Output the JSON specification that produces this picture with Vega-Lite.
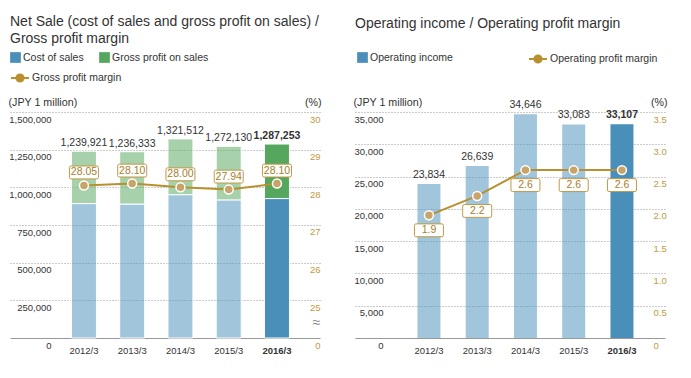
{
  "$schema": "https://vega.github.io/schema/vega-lite/v6.json",
  "padding": {"left": 8, "top": 15, "right": 5, "bottom": 5},
  "background": "white",
  "config": {
    "font": "Liberation Sans, Arial, sans-serif",
    "view": {"stroke": null},
    "axis": {"labelFontSize": 9.5, "labelColor": "#333", "ticks": false, "tickSize": 0, "domain": false, "grid": false, "titleFontWeight": "normal", "titleFontSize": 10.7, "titleColor": "#333", "labelFlush": false, "labelOverlap": false},
    "legend": {"labelFontSize": 10.5, "labelColor": "#333", "padding": 0, "titlePadding": 0},
    "title": {"fontSize": 14, "fontWeight": "normal", "color": "#333", "anchor": "start", "frame": "group", "lineHeight": 17, "offset": 6}
  },
  "datasets": {
    "sales": [
      {"year": "2012/3", "series": "Cost of sales", "value": 892123},
      {"year": "2012/3", "series": "Gross profit on sales", "value": 347798},
      {"year": "2013/3", "series": "Cost of sales", "value": 888923},
      {"year": "2013/3", "series": "Gross profit on sales", "value": 347410},
      {"year": "2014/3", "series": "Cost of sales", "value": 951489},
      {"year": "2014/3", "series": "Gross profit on sales", "value": 370023},
      {"year": "2015/3", "series": "Cost of sales", "value": 916697},
      {"year": "2015/3", "series": "Gross profit on sales", "value": 355433},
      {"year": "2016/3", "series": "Cost of sales", "value": 925535},
      {"year": "2016/3", "series": "Gross profit on sales", "value": 361718}
    ],
    "net": [
      {"year": "2012/3", "net": 1239921, "margin": 28.05},
      {"year": "2013/3", "net": 1236333, "margin": 28.10},
      {"year": "2014/3", "net": 1321512, "margin": 28.00},
      {"year": "2015/3", "net": 1272130, "margin": 27.94},
      {"year": "2016/3", "net": 1287253, "margin": 28.10}
    ],
    "op": [
      {"year": "2012/3", "series": "Operating income", "income": 23834, "margin": 1.9},
      {"year": "2013/3", "series": "Operating income", "income": 26639, "margin": 2.2},
      {"year": "2014/3", "series": "Operating income", "income": 34646, "margin": 2.6},
      {"year": "2015/3", "series": "Operating income", "income": 33083, "margin": 2.6},
      {"year": "2016/3", "series": "Operating income", "income": 33107, "margin": 2.6}
    ]
  },
  "resolve": {"scale": {"fill": "independent", "stroke": "independent"}, "legend": {"fill": "independent", "stroke": "independent"}},
  "bounds": "flush",
  "spacing": 35,
  "hconcat": [
    {
      "title": {"text": ["Net Sale (cost of sales and gross profit on sales) /", "Gross profit margin"]},
      "width": 310,
      "height": 226,
      "resolve": {"scale": {"y": "independent"}},
      "layer": [
        {
          "layer": [
            {
              "data": {"name": "sales"},
              "mark": {"type": "bar", "stroke": "white", "strokeWidth": 1},
              "encoding": {
                "x": {"field": "year", "type": "nominal", "scale": {"paddingInner": 0.482, "paddingOuter": 0.953, "align": 0.668},
                  "axis": {"title": null, "domain": true, "domainColor": "#999", "domainWidth": 1, "labelAngle": 0, "labelPadding": 7, "labelFontSize": 9.5, "labelColor": "#333", "labelOverlap": false,
                    "labelFontWeight": {"condition": {"test": "datum.value == '2016/3'", "value": "bold"}, "value": "normal"}}},
                "y": {"field": "value", "type": "quantitative", "stack": "zero", "scale": {"domain": [0, 1500000], "nice": false},
                  "axis": {"values": [0, 250000, 500000, 750000, 1000000, 1250000, 1500000], "labelExpr": "format(datum.value, ',')", "labelOverlap": false, "grid": true, "gridColor": "#999", "gridDash": [1, 2], "gridWidth": 1,
                    "gridOpacity": {"condition": {"test": "datum.value == 0", "value": 0}, "value": 1},
                    "labelAlign": "right", "labelPadding": -41, "labelBaseline": "middle", "labelOffset": 7,
                    "title": "(JPY 1 million)", "titleAngle": 0, "titleAlign": "left", "titleBaseline": "middle", "titleX": -2, "titleY": -10}},
                "fill": {"field": "series", "type": "nominal", "scale": {"domain": ["Cost of sales", "Gross profit on sales"], "range": ["#4a8fba", "#56a75e"]},
                  "legend": {"orient": "none", "legendX": 0, "legendY": -60, "direction": "horizontal", "title": null, "symbolType": "square", "symbolSize": 115, "symbolStrokeWidth": 0, "labelOffset": 2, "columnPadding": 15,
                    "encode": {"symbols": {"update": {"fillOpacity": {"value": 1}, "opacity": {"value": 1}}}}}},
                "order": {"field": "series", "type": "nominal", "sort": "ascending"},
                "fillOpacity": {"condition": {"test": "datum.year == '2016/3'", "value": 1}, "value": 0.52}
              }
            },
            {
              "data": {"name": "net"},
              "mark": {"type": "text", "baseline": "bottom", "dy": -3, "fontSize": 10.5, "fill": "#333", "fontWeight": {"expr": "datum.year == '2016/3' ? 'bold' : 'normal'"}},
              "encoding": {
                "x": {"field": "year", "type": "nominal"},
                "y": {"field": "net", "type": "quantitative",
                  "axis": {"values": [0, 250000, 500000, 750000, 1000000, 1250000, 1500000], "labelExpr": "format(datum.value, ',')", "labelOverlap": false, "grid": true, "gridColor": "#999", "gridDash": [1, 2], "gridWidth": 1,
                    "gridOpacity": {"condition": {"test": "datum.value == 0", "value": 0}, "value": 1},
                    "labelAlign": "right", "labelPadding": -41, "labelBaseline": "middle", "labelOffset": 7,
                    "title": "(JPY 1 million)", "titleAngle": 0, "titleAlign": "left", "titleBaseline": "middle", "titleX": -2, "titleY": -10}},
                "text": {"field": "net", "type": "quantitative", "format": ","}
              }
            }
          ]
        },
        {
          "data": {"name": "net"},
          "encoding": {
            "x": {"field": "year", "type": "nominal"},
            "y": {"field": "margin", "type": "quantitative", "scale": {"domain": [0, 25, 30], "range": [226, 188.33, 0], "nice": false, "zero": false},
              "axis": {"orient": "right", "values": [0, 15, 25, 26, 27, 28, 29, 30], "labelExpr": "datum.value == 15 ? '≈' : format(datum.value, 'd')", "labelOverlap": false, "labelAlign": "right", "labelPadding": 0, "labelBaseline": "middle", "labelOffset": 7,
                "labelColor": {"condition": {"test": "datum.value == 15", "value": "#888"}, "value": "#c39a3c"},
                "labelFontSize": {"condition": {"test": "datum.value == 15", "value": 14}, "value": 9.5},
                "grid": false, "title": "(%)", "titleAngle": 0, "titleAlign": "right", "titleBaseline": "middle", "titleX": 1, "titleY": -10}}
          },
          "layer": [
            {
              "mark": {"type": "line", "strokeWidth": 2},
              "encoding": {
                "stroke": {"datum": "Gross profit margin", "type": "nominal", "scale": {"range": ["#b8902e"]},
                  "legend": {"orient": "none", "legendX": 0, "legendY": -44, "title": null, "symbolType": "M-1,0H-0.4M0.4,0H1M-0.4,0A0.4,0.4,0,1,0,0.4,0A0.4,0.4,0,1,0,-0.4,0Z", "symbolSize": 324, "labelOffset": 2,
                    "encode": {"symbols": {"update": {"fill": {"value": "#b8902e"}, "stroke": {"value": "#b8902e"}, "strokeWidth": {"value": 2}, "opacity": {"value": 1}}}}}}
              }
            },
            {
              "mark": {"type": "point", "shape": "circle", "filled": true, "fill": "#c8a468", "stroke": "white", "strokeWidth": 1.5, "size": 80, "opacity": 1}
            },
            {
              "mark": {"type": "point", "shape": "M-0.9,-0.444H0.9A0.1,0.1,0,0,1,1,-0.344V0.344A0.1,0.1,0,0,1,0.9,0.444H-0.9A0.1,0.1,0,0,1,-1,0.344V-0.344A0.1,0.1,0,0,1,-0.9,-0.444Z", "size": 841, "filled": true, "fill": "white", "stroke": "#c39a45", "strokeWidth": 1, "opacity": 1, "yOffset": -13}
            },
            {
              "mark": {"type": "text", "baseline": "middle", "dy": -13, "fontSize": 10.5, "fill": "#a67e2c"},
              "encoding": {
                "text": {"field": "margin", "type": "quantitative", "format": ".2f"}
              }
            }
          ]
        }
      ]
    },
    {
      "title": {"text": "Operating income / Operating profit margin", "dy": -12},
      "width": 310,
      "height": 226,
      "data": {"name": "op"},
      "resolve": {"scale": {"y": "independent"}},
      "layer": [
        {
          "encoding": {
            "x": {"field": "year", "type": "nominal", "scale": {"paddingInner": 0.482, "paddingOuter": 0.953, "align": 0.668},
              "axis": {"title": null, "domain": true, "domainColor": "#999", "domainWidth": 1, "labelAngle": 0, "labelPadding": 7, "labelFontSize": 9.5, "labelColor": "#333", "labelOverlap": false,
                "labelFontWeight": {"condition": {"test": "datum.value == '2016/3'", "value": "bold"}, "value": "normal"}}},
            "y": {"field": "income", "type": "quantitative", "scale": {"domain": [0, 35000], "nice": false},
              "axis": {"values": [0, 5000, 10000, 15000, 20000, 25000, 30000, 35000], "labelExpr": "format(datum.value, ',')", "labelOverlap": false, "grid": true, "gridColor": "#999", "gridDash": [1, 2], "gridWidth": 1,
                "gridOpacity": {"condition": {"test": "datum.value == 0", "value": 0}, "value": 1},
                "labelAlign": "right", "labelPadding": -28, "labelBaseline": "middle", "labelOffset": 7,
                "title": "(JPY 1 million)", "titleAngle": 0, "titleAlign": "left", "titleBaseline": "middle", "titleX": -2, "titleY": -10}}
          },
          "layer": [
            {
              "mark": {"type": "bar", "width": {"band": 0.92}},
              "encoding": {
                "fill": {"field": "series", "type": "nominal", "scale": {"domain": ["Operating income"], "range": ["#4a8fba"]},
                  "legend": {"orient": "none", "legendX": 2, "legendY": -60, "title": null, "symbolType": "square", "symbolSize": 115, "symbolStrokeWidth": 0, "labelOffset": 2,
                    "encode": {"symbols": {"update": {"fillOpacity": {"value": 1}, "opacity": {"value": 1}}}}}},
                "fillOpacity": {"condition": {"test": "datum.year == '2016/3'", "value": 1}, "value": 0.52}
              }
            },
            {
              "mark": {"type": "text", "baseline": "bottom", "dy": -4, "fontSize": 10.5, "fill": "#333", "fontWeight": {"expr": "datum.year == '2016/3' ? 'bold' : 'normal'"}},
              "encoding": {
                "text": {"field": "income", "type": "quantitative", "format": ","}
              }
            }
          ]
        },
        {
          "encoding": {
            "x": {"field": "year", "type": "nominal"},
            "y": {"field": "margin", "type": "quantitative", "scale": {"domain": [0, 3.5], "nice": false},
              "axis": {"orient": "right", "values": [0, 0.5, 1, 1.5, 2, 2.5, 3, 3.5], "labelExpr": "datum.value == 0 ? '0' : format(datum.value, '.1f')", "labelOverlap": false, "labelAlign": "left", "labelPadding": -12, "labelBaseline": "middle", "labelOffset": 7,
                "labelColor": "#c39a3c", "grid": false, "title": "(%)", "titleAngle": 0, "titleAlign": "right", "titleBaseline": "middle", "titleX": 2, "titleY": -10}}
          },
          "layer": [
            {
              "mark": {"type": "line", "strokeWidth": 2},
              "encoding": {
                "stroke": {"datum": "Operating profit margin", "type": "nominal", "scale": {"range": ["#b8902e"]},
                  "legend": {"orient": "none", "legendX": 173, "legendY": -63, "title": null, "symbolType": "M-1,0H-0.4M0.4,0H1M-0.4,0A0.4,0.4,0,1,0,0.4,0A0.4,0.4,0,1,0,-0.4,0Z", "symbolSize": 324, "labelOffset": 2,
                    "encode": {"symbols": {"update": {"fill": {"value": "#b8902e"}, "stroke": {"value": "#b8902e"}, "strokeWidth": {"value": 2}, "opacity": {"value": 1}}}}}}
              }
            },
            {
              "mark": {"type": "point", "shape": "circle", "filled": true, "fill": "#c8a468", "stroke": "white", "strokeWidth": 1.5, "size": 80, "opacity": 1}
            },
            {
              "mark": {"type": "point", "shape": "M-0.9,-0.444H0.9A0.1,0.1,0,0,1,1,-0.344V0.344A0.1,0.1,0,0,1,0.9,0.444H-0.9A0.1,0.1,0,0,1,-1,0.344V-0.344A0.1,0.1,0,0,1,-0.9,-0.444Z", "size": 841, "filled": true, "fill": "white", "stroke": "#c39a45", "strokeWidth": 1, "opacity": 1, "yOffset": 15}
            },
            {
              "mark": {"type": "text", "baseline": "middle", "dy": 15, "fontSize": 10.5, "fill": "#a67e2c"},
              "encoding": {
                "text": {"field": "margin", "type": "quantitative", "format": ".1f"}
              }
            }
          ]
        }
      ]
    }
  ]
}
